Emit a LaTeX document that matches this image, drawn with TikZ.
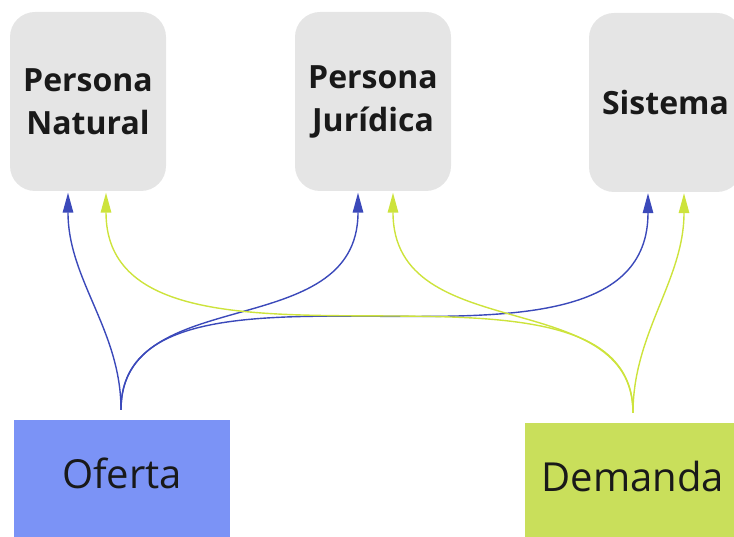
\documentclass[tikz,border=0pt]{standalone}
\usepackage{fontspec}
\setmainfont{Open Sans}
\usetikzlibrary{arrows.meta,calc}
\definecolor{boxgray}{HTML}{E5E5E5}
\definecolor{ofblue}{HTML}{7B93F6}
\definecolor{dmgreen}{HTML}{C9DF5B}
\definecolor{lnblue}{HTML}{3B49BA}
\definecolor{lngreen}{HTML}{CDE33C}
\tikzset{
  gbox/.style={fill=boxgray, rounded corners=25pt, minimum height=179pt,
    inner sep=0pt, align=center, text=black!90,
    font=\fontsize{32}{43}\selectfont\bfseries},
  sticky/.style={inner sep=0pt, minimum width=216pt, minimum height=140pt},
  bigtext/.style={font=\fontsize{40}{48}\selectfont, text=black!90},
  conn/.style={line width=1.4pt, -{Triangle[length=20pt,width=10.5pt]}},
  bconn/.style={conn, color=lnblue},
  gconn/.style={conn, color=lngreen},
}
\begin{document}
\begin{tikzpicture}[x=1pt,y=-1pt]
\useasboundingbox (0,0) rectangle (734,537);
% target boxes
\node[gbox, minimum width=156pt] (nat) at (88,101.5) {Persona\\Natural};
\node[gbox, minimum width=156pt] (jur) at (373,101.5) {Persona\\Jurídica};
\node[gbox, minimum width=153pt] (sis) at (665.5,102.5) {Sistema};
% source sticky notes
\node[sticky, fill=ofblue] (of) at (122,490) {};
\node[bigtext] (oft) at (122,473) {Oferta};
\node[sticky, fill=dmgreen, minimum width=216pt] (de) at (633,493) {};
\node[bigtext] (det) at (633,476) {Demanda};
% connector end points
\coordinate (o0) at ($(of.north)+(-1,-10)$);
\coordinate (d0) at ($(de.north)+(0,-10)$);
\coordinate (natb) at ($(nat.south)+(-20,1.5)$);
\coordinate (natg) at ($(nat.south)+(18,1.5)$);
\coordinate (jurb) at ($(jur.south)+(-15,1.5)$);
\coordinate (jurg) at ($(jur.south)+(20,1.5)$);
\coordinate (sisb) at ($(sis.south)+(-17.5,1)$);
\coordinate (sisg) at ($(sis.south)+(18.5,1)$);
% blue connectors (Oferta)
\draw[bconn] (o0) .. controls (121,330) and (68,280) .. (natb);
\draw[bconn] (o0) .. controls (121,281) and (358,345) .. (jurb);
\draw[bconn] (o0) .. controls (121,216) and (648,420) .. (sisb);
% green connectors (Demanda)
\draw[gconn] (d0) .. controls (633,333) and (684,280) .. (sisg);
\draw[gconn] (d0) .. controls (633,284) and (393,348) .. (jurg);
\draw[gconn] (d0) .. controls (633,219) and (106,415) .. (natg);
\end{tikzpicture}
\end{document}
